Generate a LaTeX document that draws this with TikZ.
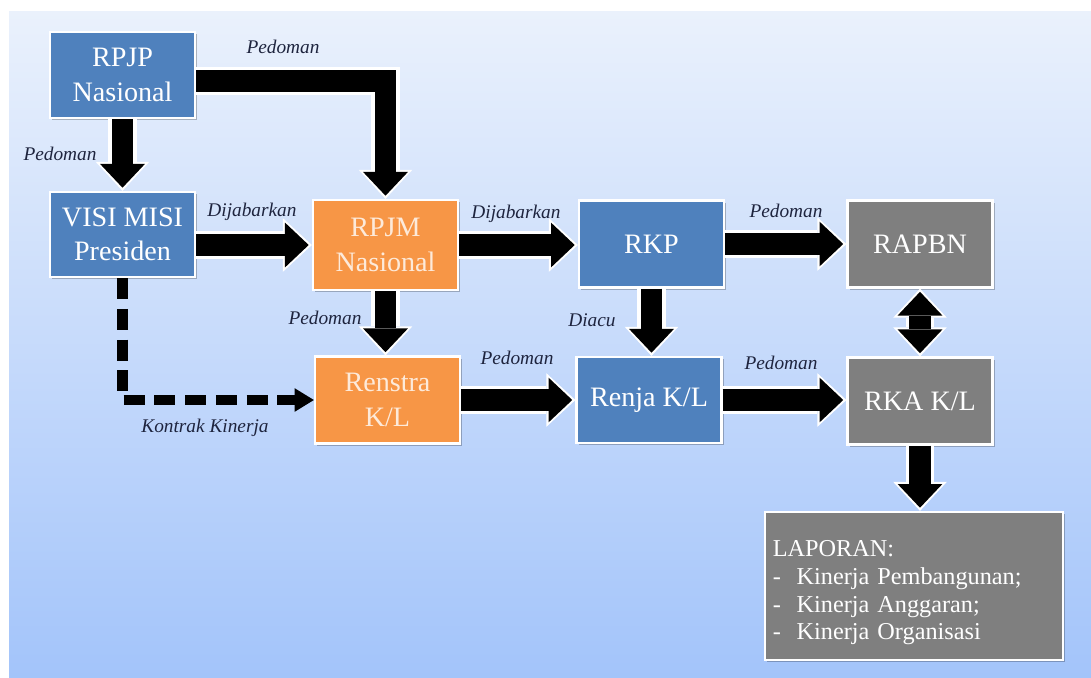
\documentclass[tikz,border=0pt]{standalone}
\usepackage{fontspec}
\setmainfont{Liberation Serif}
\usetikzlibrary{arrows.meta}
\usetikzlibrary{shadows}

\definecolor{biru}{RGB}{79,129,189}
\definecolor{oranye}{RGB}{247,150,70}
\definecolor{abu}{RGB}{127,127,127}
\definecolor{krem}{RGB}{253,234,218}
\definecolor{tinta}{RGB}{30,36,62}
\definecolor{latasatas}{RGB}{234,241,252}
\definecolor{latasbawah}{RGB}{163,196,250}

\tikzset{
  blktip/.tip={Triangle[width=25.5pt,length=13.5pt,line width=0pt]},
  whttip/.tip={Triangle[width=30.5pt,length=16.5pt,line width=0pt]},
  kotak/.style={draw=white, line width=1.3pt, text=white, align=center, inner sep=2pt,
    minimum width=2.9cm, minimum height=1.74cm, font=\fontsize{16}{19.5}\selectfont,
    drop shadow={shadow xshift=1.2pt, shadow yshift=-1.2pt, fill=black, opacity=.25}},
  blk/.style={line width=12.5pt, line join=miter, shorten >=1.8pt, -blktip,
    preaction={draw=white, line width=16pt, shorten >=0pt, -whttip}},
  blkdua/.style={line width=12.5pt, shorten >=1.8pt, shorten <=1.8pt, blktip-blktip,
    preaction={draw=white, line width=16pt, shorten >=0pt, shorten <=0pt, whttip-whttip}},
  putus/.style={line width=5.7pt, line join=miter, dash pattern=on 12pt off 5.5pt,
    -{Triangle[width=13.5pt,length=11pt,line width=0pt]}},
  ket/.style={font=\itshape\fontsize{11}{13}\selectfont, text=tinta},
}

\begin{document}
\begin{tikzpicture}[x=0.02cm, y=-0.02cm]
\useasboundingbox (0,0) rectangle (1091,677);
\fill[white] (0,0) rectangle (1091,677);
\shade[top color=latasatas, bottom color=latasbawah] (9,11) rectangle (1091,677);

\node[kotak, fill=biru, minimum height=1.72cm] (rpjp) at (122.5,75) {RPJP\\Nasional};
\node[kotak, fill=biru, minimum height=1.7cm] (visi) at (122.5,234.5) {VISI MISI\\Presiden};
\node[kotak, fill=oranye, text=krem, minimum height=1.8cm] (rpjm) at (385.5,245) {RPJM\\Nasional};
\node[kotak, fill=biru] (rkp) at (651.5,244) {RKP};
\node[kotak, fill=abu] (rapbn) at (920,244) {RAPBN};
\node[kotak, fill=oranye, text=krem] (renstra) at (387.5,400) {Renstra\\K/L};
\node[kotak, fill=biru, minimum height=1.72cm] (renja) at (649,400) {Renja K/L};
\node[kotak, fill=abu] (rka) at (920,401) {RKA K/L};
\node[kotak, fill=abu, minimum width=5.96cm, minimum height=2.96cm, align=left,
  text width=5.65cm, font=\fontsize{13.8}{15.8}\selectfont] (lap) at (914,586)
  {\rule{0pt}{17pt}LAPORAN:\\
   \makebox[13.6pt][l]{-}Kinerja Pembangunan;\\
   \makebox[13.6pt][l]{-}Kinerja Anggaran;\\
   \makebox[13.6pt][l]{-}Kinerja Organisasi};

\draw[blk] (rpjp.south) -- (rpjp.south |- visi.north);
\draw[blk] ([yshift=-3.4pt]rpjp.east) -| (rpjm.north);
\draw[blk] (rpjm.west -| visi.east) -- (rpjm.west);
\draw[blk] (rpjm.east) -- (rpjm.east -| rkp.west);
\draw[blk] (rkp.east) -- (rkp.east -| rapbn.west);
\draw[blk] (rpjm.south) -- (rpjm.south |- renstra.north);
\draw[blk] (rkp.south) -- (rkp.south |- renja.north);
\draw[blkdua] (rapbn.south) -- (rapbn.south |- rka.north);
\draw[blk] (renstra.east) -- (renstra.east -| renja.west);
\draw[blk] (renja.east) -- (renja.east -| rka.west);
\draw[blk] (rka.south) -- (rka.south |- lap.north);
\draw[putus] (visi.south) |- (renstra.west);

\node[ket] (k1) at (283,47) {Pedoman};
\node[ket] (k2) at (60,154) {Pedoman};
\node[ket] (k3) at (252,212) {Dijabarkan};
\node[ket] (k4) at (516,214) {Dijabarkan};
\node[ket] (k5) at (786,211) {Pedoman};
\node[ket] (k6) at (325,318) {Pedoman};
\node[ket] (k7) at (592,320) {Diacu};
\node[ket] (k8) at (517,358) {Pedoman};
\node[ket] (k9) at (781,363) {Pedoman};
\node[ket] (k10) at (205,428) {Kontrak Kinerja};
\end{tikzpicture}
\end{document}
